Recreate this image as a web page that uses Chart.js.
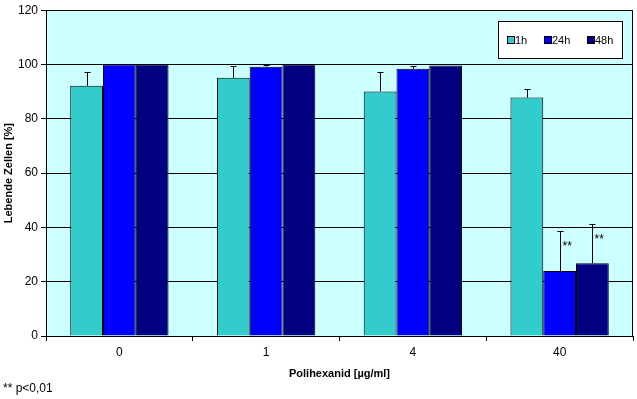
<!DOCTYPE html>
<html>
<head>
<meta charset="utf-8">
<script src="https://cdn.jsdelivr.net/npm/chart.js@4/dist/chart.umd.min.js"></script>
<style>
  html, body { margin: 0; padding: 0; background: #fff; }
</style>
</head>
<body>
<canvas id="grafico" width="637" height="399"></canvas>
<script>
// daten
const kategorien = ['0', '1', '4', '40']
const werte1h = [92.2, 95.1, 90.1, 87.8]
const werte24h = [100, 99.2, 98.4, 23.9]
const werte48h = [100, 100, 99.6, 26.8]
const fehler1h = [5.2, 4.4, 7.0, 3.3]
const fehler24h = [0, 0.5, 1.2, 14.7]
const fehler48h = [0, 0, 0, 14.3]
const sterne24h = ['', '', '', '**']
const sterne48h = ['', '', '', '**']
const yTicks = [0, 20, 40, 60, 80, 100, 120]

const schrift = 'Arial, "Liberation Sans", sans-serif'
const fehlerListe = [fehler1h, fehler24h, fehler48h]
const sterneListe = [null, sterne24h, sterne48h]

// hintergrund der zeichenflaeche
const hintergrund = {
  id: 'hintergrund',
  beforeDraw(chart) {
    const { ctx, chartArea: a } = chart
    ctx.save()
    ctx.fillStyle = '#fff'
    ctx.fillRect(0, 0, chart.width, chart.height)
    ctx.fillStyle = '#CCFFFF'
    ctx.fillRect(a.left, a.top, a.right - a.left, a.bottom - a.top)
    ctx.restore()
  },
  beforeDatasetsDraw(chart) {
    const { ctx, chartArea: a } = chart
    ctx.save()
    ctx.strokeStyle = '#000'
    ctx.lineWidth = 1
    ctx.strokeRect(Math.round(a.left) + 0.5, Math.round(a.top) + 0.5, Math.round(a.right - a.left) - 1, Math.round(a.bottom - a.top))
    ctx.restore()
  }
}

// fehlerbalken, sterne, legende und fussnote
const extras = {
  id: 'extras',
  afterDatasetsDraw(chart) {
    const { ctx } = chart
    const y = chart.scales.y
    ctx.save()
    ctx.strokeStyle = '#000'
    ctx.lineWidth = 1
    chart.data.datasets.forEach((ds, i) => {
      const meta = chart.getDatasetMeta(i)
      meta.data.forEach((bar, j) => {
        const f = fehlerListe[i][j]
        const x = Math.round(bar.x) + 0.5
        const oben = y.getPixelForValue(ds.data[j] + f)
        if (f > 0) {
          ctx.beginPath()
          ctx.moveTo(x, bar.y)
          ctx.lineTo(x, Math.round(oben) + 0.5)
          ctx.moveTo(x - 3, Math.round(oben) + 0.5)
          ctx.lineTo(x + 3, Math.round(oben) + 0.5)
          ctx.stroke()
        }
        const s = sterneListe[i] ? sterneListe[i][j] : ''
        if (s) {
          ctx.fillStyle = '#000'
          ctx.font = '12px ' + schrift
          ctx.textAlign = 'left'
          ctx.textBaseline = 'top'
          ctx.fillText(s, x + 2, oben + 9)
        }
      })
    })
    ctx.restore()
  },
  afterDraw(chart) {
    const { ctx } = chart
    ctx.save()
    // legende
    const lx = 498, ly = 21, lw = 124, lh = 37
    ctx.fillStyle = '#fff'
    ctx.fillRect(lx, ly, lw, lh)
    ctx.strokeStyle = '#000'
    ctx.lineWidth = 1
    ctx.strokeRect(lx + 0.5, ly + 0.5, lw, lh)
    const posX = [507, 544, 587]
    ctx.font = '11px ' + schrift
    ctx.textBaseline = 'middle'
    ctx.textAlign = 'left'
    chart.data.datasets.forEach((ds, i) => {
      ctx.fillStyle = ds.backgroundColor
      ctx.fillRect(posX[i], 36, 7, 7)
      ctx.strokeRect(posX[i] + 0.5, 36.5, 7, 7)
      ctx.fillStyle = '#000'
      ctx.fillText(ds.label, posX[i] + 8, 40.5)
    })
    // fussnote
    ctx.font = '12px ' + schrift
    ctx.textBaseline = 'middle'
    ctx.fillText('** p<0,01', 3, 389)
    ctx.restore()
  }
}

const grafico = new Chart(document.getElementById('grafico'), {
  type: 'bar',
  data: {
    labels: kategorien,
    datasets: [{
      label: '1h',
      data: werte1h,
      backgroundColor: '#33CCCC'
    }, {
      label: '24h',
      data: werte24h,
      backgroundColor: '#0000FF'
    }, {
      label: '48h',
      data: werte48h,
      backgroundColor: '#000080'
    }]
  },
  options: {
    responsive: false,
    animation: false,
    devicePixelRatio: 1,
    layout: { padding: { top: 10, right: 4, bottom: 18, left: 0 } },
    datasets: {
      bar: {
        borderColor: '#000',
        borderWidth: 1,
        categoryPercentage: 0.67,
        barPercentage: 1
      }
    },
    plugins: {
      legend: { display: false },
      tooltip: { enabled: false }
    },
    scales: {
      x: {
        grid: { drawOnChartArea: false, drawTicks: true, tickLength: 5, color: '#000', offset: true },
        border: { color: '#000' },
        ticks: { color: '#000', font: { family: schrift, size: 12 }, padding: 4 },
        title: {
          display: true,
          text: 'Polihexanid [µg/ml]',
          color: '#000',
          font: { family: schrift, size: 11, weight: 'bold' },
          padding: { top: 6, bottom: 0 }
        },
        afterFit(s) { s.height = 45 }
      },
      y: {
        min: 0,
        max: 120,
        afterBuildTicks(s) { s.ticks = yTicks.map(v => ({ value: v })) },
        grid: { color: '#000', tickLength: 5 },
        border: { color: '#000' },
        ticks: { color: '#000', font: { family: schrift, size: 12 }, padding: 3 },
        title: {
          display: true,
          text: 'Lebende Zellen [%]',
          color: '#000',
          font: { family: schrift, size: 11, weight: 'bold' },
          padding: { top: 2, bottom: 2 }
        },
        afterFit(s) { s.width = 46 }
      }
    }
  },
  plugins: [hintergrund, extras]
})
</script>
</body>
</html>
